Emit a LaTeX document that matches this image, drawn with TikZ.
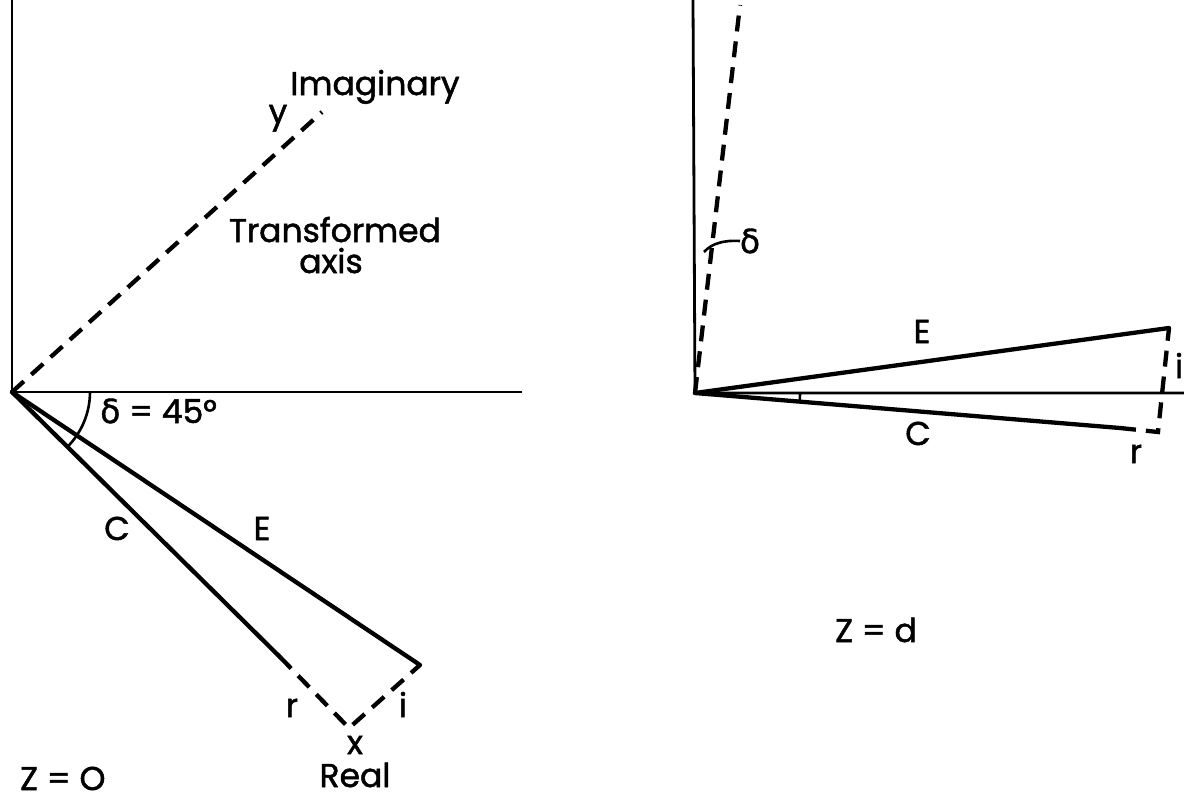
\documentclass[tikz,border=0pt]{standalone}
\usepackage{fontspec}
\setmainfont{Poppins}[FakeBold=1.5]
\newfontfamily\grk{DejaVu Sans}[FakeBold=1.2]
\tikzset{
  solidline/.style={line width=4.3pt, line cap=round, line join=round},
  axisline/.style={line width=2.8pt},
  dashline/.style={line width=4.3pt, dash pattern=on 16pt off 10pt},
  lbl/.style={font=\fontsize{33}{38}\selectfont, inner sep=0pt, anchor=base},
  thinline/.style={line width=2.6pt}
}
\begin{document}
\begin{tikzpicture}[x=1pt,y=-1pt]
\useasboundingbox (0,0) rectangle (1184,801);
% ---- left diagram ----
\coordinate (O) at (12,392);
\coordinate (Vtop) at (12,0);
\coordinate (Hend) at (522,392);
\coordinate (Yend) at (322,112);
\coordinate (Ecorner) at (420,665);
\coordinate (Cend) at (280,657);
\coordinate (Xcorner) at (349,728);
\draw[axisline] (Vtop) -- (O) -- (Hend);
\draw[dashline] (O) -- (Yend);
\draw[solidline] (O) -- (Ecorner);
\draw[solidline] (O) -- (Cend);
\draw[dashline] (Cend) -- (Xcorner) -- (Ecorner);
\draw[thinline] ([xshift=78pt]O) arc[start angle=0, end angle=-44.5, radius=78pt];
\node[lbl, anchor=base west] (delta45) at (100,423) {{\grk δ} = 45°};
\node[lbl] (imag) at (375,95) {Imaginary};
\node[lbl] (ylab) at (278,123) {y};
\node[lbl] (trans) at (335,242) {Transformed};
\node[lbl] (axis) at (331,273) {axis};
\node[lbl] (Clab) at (117,540) {C};
\node[lbl] (Elab) at (262,540) {E};
\node[lbl] (rlab) at (292,717) {r};
\node[lbl] (ilab) at (403,717) {i};
\node[lbl] (xlab) at (355,754) {x};
\node[lbl] (real) at (355,787) {Real};
\node[lbl, anchor=base west] (z0) at (20,790) {Z = O};
% ---- right diagram ----
\coordinate (P) at (695,393);
\coordinate (PVtop) at (693,0);
\coordinate (PHend) at (1184,393);
\coordinate (Dend) at (740,5);
\coordinate (PE) at (1169,328);
\coordinate (PCend) at (1120,428);
\coordinate (PR) at (1158,432);
\draw[axisline] (PVtop) -- (P) -- (PHend);
\draw[dashline] (P) -- (Dend);
\draw[solidline] (P) -- (PE);
\draw[solidline] (P) -- (PCend);
\draw[dashline] (PCend) -- (PR) -- (PE);
\draw[thinline] (704,252) .. controls (712,243) and (725,240) .. (740,241);
\draw[thinline] ([xshift=105pt]P) arc[start angle=0, end angle=-4.5, radius=105pt];
\node[lbl] (dlab) at (750,253) {\grk δ};
\node[lbl] (PElab) at (922,343) {E};
\node[lbl] (PClab) at (918,445) {C};
\node[lbl] (Pilab) at (1179,378) {i};
\node[lbl] (Prlab) at (1136,463) {r};
\node[lbl, anchor=base west] (zd) at (835,642) {Z = d};
\end{tikzpicture}
\end{document}
